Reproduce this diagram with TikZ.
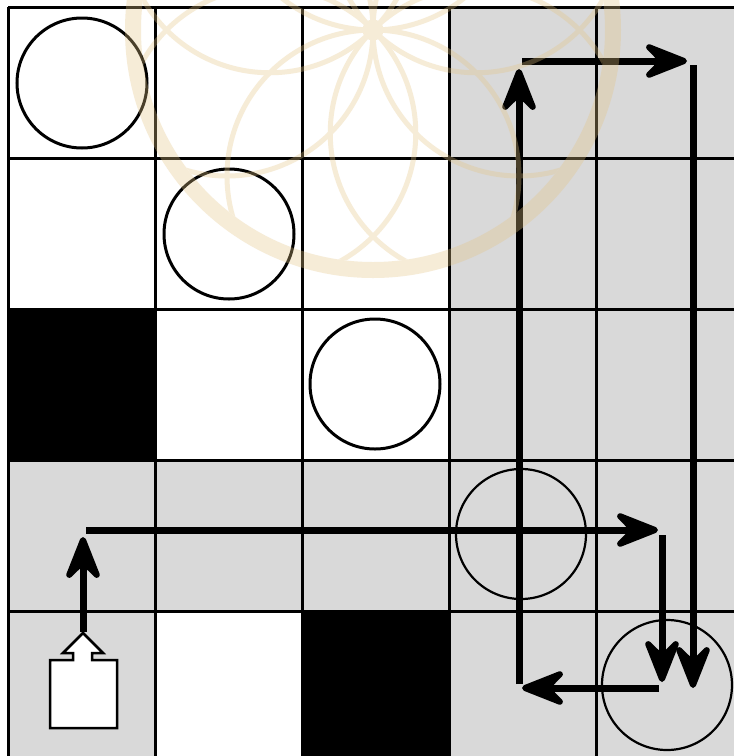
\documentclass[tikz,border=0pt]{standalone}
\usetikzlibrary{arrows.meta,calc}
\definecolor{cellgrey}{RGB}{217,217,217}
\definecolor{wmark}{RGB}{228,196,132}
\tikzset{
  gridline/.style={line width=3pt, black},
  token/.style={circle, draw=black, line width=3pt, minimum size=130pt, inner sep=0pt},
  tokengrey/.style={circle, draw=black, line width=2.2pt, minimum size=130pt, inner sep=0pt},
  pathline/.style={line width=7pt, black, -{Stealth[length=42pt 0 0, width=33pt 0 0, inset=16pt 0 0, line width=6pt, round, scale=1.3]}},
  robot/.style={draw=black, fill=white, line width=2.5pt, line join=miter},
}
\begin{document}
\begin{tikzpicture}[x=1pt, y=-1pt]
\useasboundingbox (0,0) rectangle (734,756);
\clip (0,0) rectangle (734,756);
\fill[white] (0,0) rectangle (734,756);
% grey cells
\fill[cellgrey] (449,7) rectangle (743,762);
\fill[cellgrey] (8,460) rectangle (449,611);
\fill[cellgrey] (8,611) rectangle (155,762);
% black cells
\fill[black] (8,309) rectangle (155,460);
\fill[black] (302,611) rectangle (449,762);
% grid
\foreach \x in {8,155,302,449,596,743} \draw[gridline] (\x,7) -- (\x,762);
\foreach \y in {7,158,309,460,611,762} \draw[gridline] (8,\y) -- (743,\y);
% tokens
\node[token, fill=white] (t1) at (82,83) {};
\node[token, fill=white] (t2) at (229,234) {};
\node[token, fill=white] (t3) at (375,384) {};
\node[tokengrey] (t4) at (521,534) {};
\node[tokengrey] (t5) at (667,685) {};
% robot
\draw[robot] (50,660) -- (73,660) -- (73,653) -- (63,653) -- (83,633) -- (103,653) -- (92,653) -- (92,660) -- (117,660) -- (117,728) -- (50,728) -- cycle;
% path coordinates
\coordinate (a0) at (83,632);
\coordinate (a1) at (83,537);
\coordinate (b0) at (86,530);
\coordinate (b1) at (658,530);
\coordinate (c0) at (662,535);
\coordinate (c1) at (662,682);
\coordinate (d0) at (659,688);
\coordinate (d1) at (522,688);
\coordinate (e0) at (519,684);
\coordinate (e1) at (519,69);
\coordinate (f0) at (522,61);
\coordinate (f1) at (687,61);
\coordinate (g0) at (693,65);
\coordinate (g1) at (693,688);
\draw[pathline] (a0) -- (a1);
\draw[pathline] (b0) -- (b1);
\draw[pathline] (c0) -- (c1);
\draw[pathline] (d0) -- (d1);
\draw[pathline] (e0) -- (e1);
\draw[pathline] (f0) -- (f1);
\draw[pathline] (g0) -- (g1);
% watermark
\coordinate (wc) at (373,30);
\begin{scope}[transparency group, opacity=0.32]
  \draw[wmark, line width=16pt] (wc) circle[radius=240];
  \begin{scope}
    \clip (wc) circle[radius=232];
    \foreach \a in {0,45,...,315}
      \draw[wmark, line width=5pt] ($(wc)+(\a:146)$) circle[radius=146];
  \end{scope}
  \draw[wmark, line width=5pt] (wc) circle[radius=8];
\end{scope}
\end{tikzpicture}
\end{document}
